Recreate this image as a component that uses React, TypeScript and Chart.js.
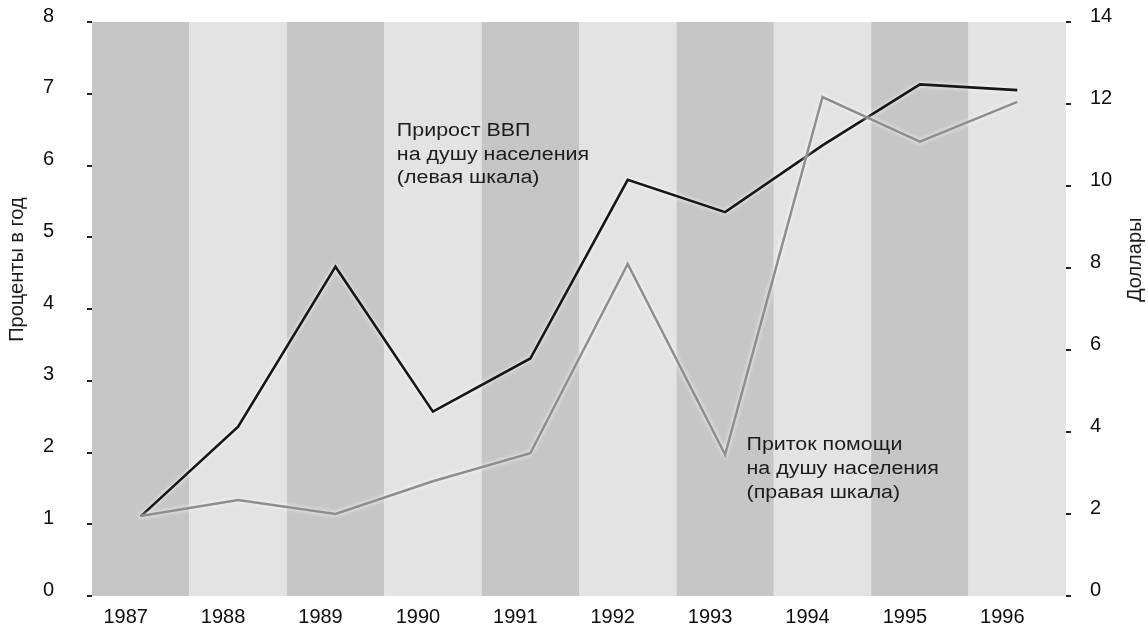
import React, { useEffect, useRef } from 'react';
import { Chart, registerables } from 'chart.js';

Chart.register(...registerables);

// ---- data ----
const years = ['1987', '1988', '1989', '1990', '1991', '1992', '1993', '1994', '1995', '1996'];
// per-capita GDP growth, % per year (left scale)
const gdpGrowth = [1.11, 2.36, 4.59, 2.57, 3.31, 5.8, 5.35, 6.28, 7.13, 7.05];
// per-capita aid inflow, dollars (right scale)
const aidPerCapita = [1.95, 2.34, 2.0, 2.8, 3.48, 8.1, 3.45, 12.17, 11.08, 12.05];

const gdpNote = ['Прирост ВВП', 'на душу населения', '(левая шкала)'];
const aidNote = ['Приток помощи', 'на душу населения', '(правая шкала)'];
const leftTitle = 'Проценты в год';
const rightTitle = 'Доллары';

const bandColors = ['#c6c6c6', '#e3e3e3'];
const FONT = '"Liberation Sans", Arial, sans-serif';

function drawNote(ctx: any, lines: string[], x: number, y: number, gap: number) {
  ctx.save();
  ctx.translate(x, y);
  ctx.scale(1.19, 1);
  lines.forEach((t, i) => ctx.fillText(t, 0, i * gap));
  ctx.restore();
}

const decorPlugin = {
  id: 'decor',
  beforeDatasetsDraw(chart: any) {
    const { ctx, chartArea, scales } = chart;
    const x = scales.x;
    const n = years.length;
    ctx.save();
    for (let i = 0; i < n; i++) {
      const l = x.getPixelForValue(i - 0.5);
      const r = x.getPixelForValue(i + 0.5);
      ctx.fillStyle = bandColors[i % 2];
      ctx.fillRect(l, chartArea.top, r - l, chartArea.bottom - chartArea.top);
    }
    ctx.restore();
  },
  beforeDatasetDraw(chart: any) {
    const ctx = chart.ctx;
    ctx.save();
    ctx.shadowColor = 'rgba(255,255,255,0.95)';
    ctx.shadowBlur = 4;
  },
  afterDatasetDraw(chart: any) {
    chart.ctx.restore();
  },
  afterDatasetsDraw(chart: any) {
    const { ctx, scales } = chart;
    const x = scales.x, y = scales.y, y1 = scales.y1;
    ctx.save();
    ctx.fillStyle = '#1c1c1c';
    ctx.font = `18px ${FONT}`;
    ctx.textAlign = 'left';
    ctx.textBaseline = 'middle';
    drawNote(ctx, gdpNote, x.getPixelForValue(2.63), y.getPixelForValue(6.48), 23.5);
    drawNote(ctx, aidNote, x.getPixelForValue(6.22), y1.getPixelForValue(3.68), 24);

    ctx.font = `20px ${FONT}`;
    ctx.textAlign = 'center';
    ctx.save();
    ctx.translate(17, y.getPixelForValue(4.55));
    ctx.rotate(-Math.PI / 2);
    ctx.fillText(leftTitle, 0, 0);
    ctx.restore();

    ctx.save();
    ctx.translate(1135, y1.getPixelForValue(8.2));
    ctx.rotate(-Math.PI / 2);
    ctx.fillText(rightTitle, 0, 0);
    ctx.restore();
    ctx.restore();
  },
};

const fitY = (w: number) => (s: any) => {
  s.width = w;
  s.paddingTop = 12;
  s.paddingBottom = 12;
};

export default function App() {
  const ref = useRef<HTMLCanvasElement>(null);
  useEffect(() => {
    const chart = new Chart(ref.current as HTMLCanvasElement, {
      type: 'line',
      data: {
        labels: years,
        datasets: [
          {
            label: 'Приток помощи',
            data: aidPerCapita,
            yAxisID: 'y1',
            borderColor: '#8e8e8e',
            borderWidth: 2.5,
            pointRadius: 0,
            tension: 0,
          },
          {
            label: 'Прирост ВВП',
            data: gdpGrowth,
            yAxisID: 'y',
            borderColor: '#161616',
            borderWidth: 2.6,
            pointRadius: 0,
            tension: 0,
          },
        ],
      },
      options: {
        responsive: false,
        animation: false,
        layout: { padding: { top: 22, left: 0, right: 0, bottom: 0 } },
        plugins: { legend: { display: false }, tooltip: { enabled: false } },
        scales: {
          x: {
            type: 'category',
            offset: true,
            grid: { display: false, drawTicks: false },
            border: { display: false },
            ticks: { color: '#0d0d0d', font: { family: FONT, size: 20 }, padding: 9, maxRotation: 0, labelOffset: -15 },
            afterFit: (s: any) => { s.height = 34; },
          },
          y: {
            position: 'left',
            min: 0,
            max: 8,
            ticks: { stepSize: 1, color: '#0d0d0d', font: { family: FONT, size: 20 }, padding: 33, labelOffset: -6 },
            grid: { drawOnChartArea: false, drawTicks: true, tickLength: 5, color: '#222', lineWidth: 2 },
            border: { display: false },
            afterFit: fitY(92),
          },
          y1: {
            position: 'right',
            min: 0,
            max: 14,
            ticks: { stepSize: 2, color: '#0d0d0d', font: { family: FONT, size: 20 }, padding: 19, labelOffset: -6 },
            grid: { drawOnChartArea: false, drawTicks: true, tickLength: 5, color: '#222', lineWidth: 2 },
            border: { display: false },
            afterFit: fitY(82),
          },
        },
      },
      plugins: [decorPlugin],
    });
    return () => chart.destroy();
  }, []);
  return (
    <div style={{ position: 'fixed', left: 0, top: 0, width: 1148, height: 630, background: '#fff' }}>
      <canvas ref={ref} width={1148} height={630} />
    </div>
  );
}
